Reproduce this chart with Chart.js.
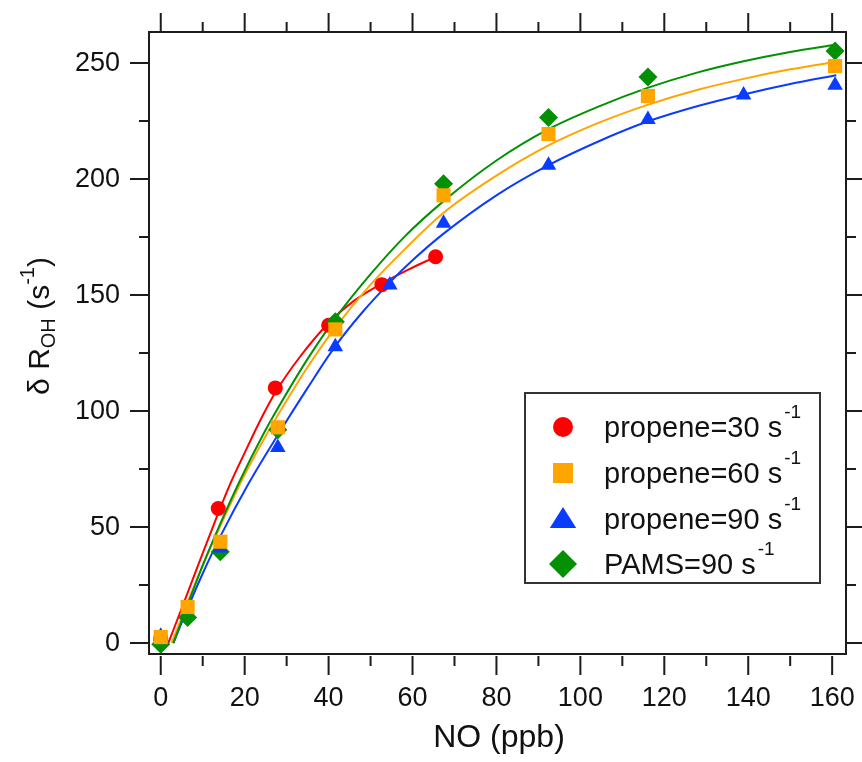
<!DOCTYPE html>
<html>
<head>
<meta charset="utf-8">
<script src="https://cdn.jsdelivr.net/npm/chart.js@4.4.0/dist/chart.umd.min.js"></script>
<style>
  html, body { margin: 0; padding: 0; background: #fff; }
  #wrap { width: 862px; height: 762px; }
</style>
</head>
<body>
<div id="wrap"><canvas id="myChart" width="862" height="762"></canvas></div>
<script>
// axis ticks
const xTicks = [0, 20, 40, 60, 80, 100, 120, 140, 160];
const xMinor = [10, 30, 50, 70, 90, 110, 130, 150];
const yTicks = [0, 50, 100, 150, 200, 250];
const yMinor = [25, 75, 125, 175, 225];

// measured points
const red30X = [0, 13.7, 27.3, 40, 52.7, 65.5];
const red30Y = [2, 58, 110, 137, 154.5, 166.5];
const orange60X = [0, 6.4, 14.2, 27.9, 41.6, 67.4, 92.4, 116.1, 160.7];
const orange60Y = [2.6, 15.6, 43.7, 93, 135.2, 193, 219.4, 235.8, 248.7];
const blue90X = [0, 14.2, 27.9, 41.6, 54.6, 67.4, 92.4, 116.1, 138.9, 160.7];
const blue90Y = [3, 41, 84.3, 127.7, 154.3, 181, 206, 225.7, 236.2, 240.5];
const greenX = [0, 6.4, 14.2, 27.9, 41.6, 67.4, 92.4, 116.1, 160.7];
const greenY = [-0.5, 11, 39.4, 92, 138.5, 198, 226.6, 244, 255.2];

// fitted curves
const redFitX = [1.8, 5, 9, 13.7, 16.4, 20, 24, 27.3, 33, 40, 46, 52.7, 59, 65.5];
const redFitY = [0, 15, 34, 56, 68, 82, 97, 108, 123, 138, 147.5, 155, 161, 166.5];
const orangeFitX = [2.6, 6.4, 10, 14.2, 19, 24, 28, 35, 41.6, 50, 58, 67.4, 80, 92.4, 104, 116, 128, 138.9, 150, 161];
const orangeFitY = [0, 17.5, 33.5, 50.5, 69, 86, 98.5, 119, 136, 154.5, 169.5, 185.5, 201.5, 214.5, 224, 232, 238.5, 243.2, 247.3, 250.6];
const blueFitX = [3, 6.4, 10, 14.2, 21, 28, 35, 41.6, 48, 54.6, 60, 67.4, 80, 92.4, 104, 116, 128, 138.9, 150, 161];
const blueFitY = [0, 15, 30, 46, 69, 90, 110, 128, 142.5, 155.5, 165, 176.5, 193, 206, 216, 224.8, 231.5, 236.5, 241, 244.8];
const greenFitX = [3, 6.4, 10, 14.2, 19, 24, 28, 35, 41.6, 50, 58, 67.4, 80, 92.4, 104, 116, 128, 138.9, 150, 161];
const greenFitY = [0, 16.5, 33.5, 51.5, 70.5, 88.5, 101.5, 122.5, 140, 159, 175, 190.5, 208, 221.5, 231, 239.3, 246, 250.8, 254.8, 258];

const legendLabels = ["propene=30 s", "propene=60 s", "propene=90 s", "PAMS=90 s"];

const RED = "#ff0000";
const ORANGE = "#ffa500";
const BLUE = "#0a3cff";
const GREEN = "#039003";
const FONT = "'Liberation Sans', Arial, sans-serif";

function pts(xs, ys) {
  return xs.map((x, i) => ({ x: x, y: ys[i] }));
}

function markerSet(label, xs, ys, color, style, r, order) {
  return {
    type: "scatter",
    label: label,
    data: pts(xs, ys),
    pointStyle: style,
    pointRadius: r,
    pointHoverRadius: r,
    backgroundColor: color,
    borderColor: color,
    borderWidth: 0,
    showLine: false,
    order: order,
  };
}

function fitSet(xs, ys, color, order) {
  return {
    type: "line",
    data: pts(xs, ys),
    borderColor: color,
    borderWidth: 2,
    pointRadius: 0,
    fill: false,
    cubicInterpolationMode: "monotone",
    order: order,
  };
}

function drawMarker(ctx, style, r, x, y, color) {
  ctx.fillStyle = color;
  ctx.beginPath();
  if (style === "circle") {
    ctx.arc(x, y, r, 0, Math.PI * 2);
  } else if (style === "rect") {
    ctx.rect(x - r, y - r, 2 * r, 2 * r);
  } else if (style === "triangle") {
    ctx.moveTo(x, y - r);
    ctx.lineTo(x + r * 1.1, y + r * 0.75);
    ctx.lineTo(x - r * 1.1, y + r * 0.75);
    ctx.closePath();
  } else {
    ctx.moveTo(x, y - r);
    ctx.lineTo(x + r, y);
    ctx.lineTo(x, y + r);
    ctx.lineTo(x - r, y);
    ctx.closePath();
  }
  ctx.fill();
}

// no extra room for half labels at the axis ends
function noPad(scale) {
  scale.paddingTop = 0;
  scale.paddingBottom = 0;
  scale.paddingLeft = 0;
  scale.paddingRight = 0;
}

const framePlugin = {
  id: "frame",
  afterDraw(chart) {
    const ctx = chart.ctx;
    const a = chart.chartArea;
    const xs = chart.scales.x;
    const ys = chart.scales.y;
    ctx.save();
    ctx.strokeStyle = "#1c1c1c";
    ctx.lineWidth = 2;
    ctx.strokeRect(a.left, a.top, a.right - a.left, a.bottom - a.top);

    ctx.beginPath();
    xTicks.forEach((v) => {
      const px = xs.getPixelForValue(v);
      ctx.moveTo(px, a.bottom + 2); ctx.lineTo(px, a.bottom + 21);
      ctx.moveTo(px, a.top); ctx.lineTo(px, a.top - 19);
    });
    xMinor.forEach((v) => {
      const px = xs.getPixelForValue(v);
      ctx.moveTo(px, a.bottom + 2); ctx.lineTo(px, a.bottom + 12);
      ctx.moveTo(px, a.top); ctx.lineTo(px, a.top - 10);
    });
    yTicks.forEach((v) => {
      const py = ys.getPixelForValue(v);
      ctx.moveTo(a.left, py); ctx.lineTo(a.left - 19, py);
      ctx.moveTo(a.right, py); ctx.lineTo(a.right + 19, py);
    });
    yMinor.forEach((v) => {
      const py = ys.getPixelForValue(v);
      ctx.moveTo(a.left, py); ctx.lineTo(a.left - 10, py);
      ctx.moveTo(a.right, py); ctx.lineTo(a.right + 10, py);
    });
    ctx.stroke();

    // axis titles
    ctx.fillStyle = "#111";
    ctx.font = "32px " + FONT;
    ctx.textAlign = "center";
    ctx.textBaseline = "middle";
    ctx.fillText("NO (ppb)", 499, 738);

    // y title with sub / superscript, rotated
    ctx.save();
    ctx.translate(38, 326);
    ctx.rotate(-Math.PI / 2);
    ctx.textAlign = "left";
    ctx.textBaseline = "alphabetic";
    const big = "30px " + FONT, small = "20px " + FONT;
    const parts = [
      { t: "\u03b4 R", f: big, dy: 0 },
      { t: "OH", f: small, dy: 6 },
      { t: " (s", f: big, dy: 0 },
      { t: "-1", f: small, dy: -15 },
      { t: ")", f: big, dy: 0 },
    ];
    let total = 0;
    parts.forEach((p) => { ctx.font = p.f; total += ctx.measureText(p.t).width; });
    let cx = -total / 2;
    parts.forEach((p) => {
      ctx.font = p.f;
      ctx.fillText(p.t, cx, 11 + p.dy);
      cx += ctx.measureText(p.t).width;
    });
    ctx.restore();

    // legend box
    ctx.strokeStyle = "#333";
    ctx.lineWidth = 2;
    ctx.strokeRect(525, 393, 295, 190);
    const rows = [
      { style: "circle", r: 10, color: RED },
      { style: "rect", r: 10, color: ORANGE },
      { style: "triangle", r: 12, color: BLUE },
      { style: "diamond", r: 14, color: GREEN },
    ];
    const rowY = [427, 473, 519, 564];
    rows.forEach((row, i) => {
      drawMarker(ctx, row.style, row.r, 563, rowY[i], row.color);
      ctx.fillStyle = "#111";
      ctx.font = "29px " + FONT;
      ctx.textAlign = "left";
      ctx.textBaseline = "alphabetic";
      ctx.fillText(legendLabels[i], 604, rowY[i] + 10);
      const w = ctx.measureText(legendLabels[i]).width;
      ctx.font = "19px " + FONT;
      ctx.fillText("-1", 604 + w + 2, rowY[i] - 9);
    });
    ctx.restore();
  },
};

const ctx = document.getElementById("myChart");
const myChart = new Chart(ctx, {
  data: {
    datasets: [
      markerSet("propene=60", orange60X, orange60Y, ORANGE, "rect", 10, 0),
      markerSet("propene=90", blue90X, blue90Y, BLUE, "triangle", 9, 1),
      markerSet("PAMS=90", greenX, greenY, GREEN, "rectRot", 9.5, 2),
      markerSet("propene=30", red30X, red30Y, RED, "circle", 7.5, 3),
      fitSet(greenFitX, greenFitY, GREEN, 4),
      fitSet(orangeFitX, orangeFitY, ORANGE, 5),
      fitSet(blueFitX, blueFitY, BLUE, 6),
      fitSet(redFitX, redFitY, RED, 7),
    ],
  },
  options: {
    responsive: false,
    animation: false,
    devicePixelRatio: 1,
    layout: { autoPadding: false, padding: { top: 32, right: 16, left: 0, bottom: 0 } },
    plugins: { legend: { display: false }, tooltip: { enabled: false } },
    scales: {
      x: {
        type: "linear",
        min: -2.8,
        max: 163.3,
        afterBuildTicks: (scale) => { scale.ticks = xTicks.map((v) => ({ value: v })); },
        afterFit: (scale) => { scale.height = 108; noPad(scale); },
        grid: { display: false, drawTicks: false },
        border: { display: false },
        ticks: { color: "#111", font: { size: 27, family: FONT }, padding: 28, maxRotation: 0, autoSkip: false },
      },
      y: {
        type: "linear",
        min: -4.7,
        max: 263.4,
        afterBuildTicks: (scale) => { scale.ticks = yTicks.map((v) => ({ value: v })); },
        afterFit: (scale) => { scale.width = 149; noPad(scale); },
        grid: { display: false, drawTicks: false },
        border: { display: false },
        ticks: { color: "#111", font: { size: 27, family: FONT }, padding: 29, autoSkip: false },
      },
    },
  },
  plugins: [framePlugin],
});
</script>
</body>
</html>
